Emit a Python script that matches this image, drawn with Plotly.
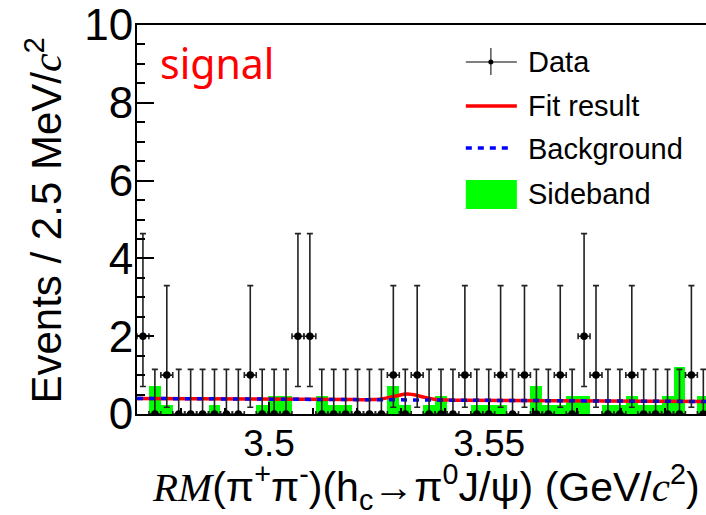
import plotly.graph_objects as go

# ---------------- data ----------------
bin_centers = [3.47135, 3.47406, 3.47677, 3.47948, 3.48219, 3.48490, 3.48760, 3.49031,
               3.49302, 3.49573, 3.49844, 3.50115, 3.50385, 3.50656, 3.50927, 3.51198,
               3.51469, 3.51740, 3.52010, 3.52281, 3.52552, 3.52823, 3.53094, 3.53365,
               3.53635, 3.53906, 3.54177, 3.54448, 3.54719, 3.54990, 3.55260, 3.55531,
               3.55802, 3.56073, 3.56344, 3.56615, 3.56885, 3.57156, 3.57427, 3.57698,
               3.57969, 3.58240, 3.58510, 3.58781, 3.59052, 3.59323, 3.59594, 3.59865]
bin_width = 0.0027083

data_counts = [2, 0, 1, 0, 0, 0, 0, 0, 0, 1, 0, 0, 0, 2, 2, 0, 0, 0, 0, 0, 0, 1, 0, 1,
               0, 0, 0, 1, 0, 0, 1, 0, 1, 0, 0, 1, 0, 2, 1, 0, 0, 1, 0, 0, 0, 0, 1, 0]

sideband = [0, 0.72, 0.22, 0, 0, 0, 0.22, 0, 0, 0, 0.22, 0.46,
            0.46, 0, 0, 0.46, 0.22, 0.22, 0, 0, 0, 0.72, 0.22, 0,
            0.22, 0.46, 0, 0, 0.22, 0.22, 0.22, 0, 0, 0.72, 0.22, 0.22,
            0.46, 0.46, 0, 0.22, 0.22, 0.46, 0.22, 0.22, 0.46, 1.22, 0, 0.46]

# Poisson (Garwood) error bars for the observed counts: (down, up)
poisson_err = {0: (0.0, 1.148), 1: (0.827, 2.300), 2: (1.292, 2.638)}

fit_x = [3.470, 3.5195, 3.5225, 3.5255, 3.5285, 3.5315, 3.5345, 3.5375, 3.5405, 3.5435, 3.600]
fit_y = [0.400, 0.370, 0.369, 0.386, 0.455, 0.512, 0.452, 0.379, 0.358, 0.355, 0.320]

bkg_x = [3.470, 3.600]
bkg_y = [0.400, 0.320]

x_ticks = [3.50, 3.55]
x_ticklabels = ["3.5", "3.55"]
y_ticks = [0, 2, 4, 6, 8, 10]

err_up = [poisson_err[c][1] for c in data_counts]
err_dn = [poisson_err[c][0] for c in data_counts]

# ---------------- layout geometry (pixels) ----------------
W, H = 706, 515
PL, PR, PT, PB = 137.4, 706.0, 25.0, 414.0
X0 = 3.47
X1 = X0 + (PR - PL) / 4399.0


def xp(px):
    return (px - PL) / (PR - PL)


def yp(py):
    return (PB - py) / (PB - PT)


SANS = "Liberation Sans, Arial, sans-serif"

fig = go.Figure()

fig.add_trace(go.Bar(x=bin_centers, y=sideband, width=bin_width,
                     marker=dict(color="#00ff00", line=dict(width=0)),
                     showlegend=False, hoverinfo="skip"))

fig.add_trace(go.Scatter(x=fit_x, y=fit_y, mode="lines",
                         line=dict(color="#ff0000", width=3.5, shape="spline"),
                         showlegend=False))

fig.add_trace(go.Scatter(x=bkg_x, y=bkg_y, mode="lines",
                         line=dict(color="#0000ff", width=3.5, dash="6px,6px"),
                         showlegend=False))

fig.add_trace(go.Scatter(
    x=bin_centers, y=data_counts, mode="markers",
    marker=dict(color="black", size=7.5),
    error_y=dict(type="data", symmetric=False, array=err_up, arrayminus=err_dn,
                 color="#222222", thickness=1.6, width=3),
    error_x=dict(type="constant", value=bin_width / 2, color="#222222",
                 thickness=1.6, width=3),
    showlegend=False, cliponaxis=True))

shapes = []
annotations = []

# ---- manual legend ----
lx0, lx1 = 466, 517
# Data
shapes.append(dict(type="line", xref="paper", yref="paper",
                   x0=xp(lx0), x1=xp(lx1), y0=yp(62), y1=yp(62),
                   line=dict(color="#555555", width=1.5)))
shapes.append(dict(type="line", xref="paper", yref="paper",
                   x0=xp(491), x1=xp(491), y0=yp(48), y1=yp(75),
                   line=dict(color="#555555", width=1.5)))
shapes.append(dict(type="circle", xref="paper", yref="paper",
                   x0=xp(488.5), x1=xp(493.5), y0=yp(59.5), y1=yp(64.5),
                   fillcolor="black", line=dict(color="black", width=0)))
# Fit result
shapes.append(dict(type="line", xref="paper", yref="paper",
                   x0=xp(lx0), x1=xp(lx1), y0=yp(106), y1=yp(106),
                   line=dict(color="#ff0000", width=3.5)))
# Background
shapes.append(dict(type="line", xref="paper", yref="paper",
                   x0=xp(lx0), x1=xp(512), y0=yp(148), y1=yp(148),
                   line=dict(color="#0000ff", width=3.5, dash="6px,6px")))
# Sideband
shapes.append(dict(type="rect", xref="paper", yref="paper",
                   x0=xp(lx0), x1=xp(lx1), y0=yp(209), y1=yp(180),
                   fillcolor="#00ff00", line=dict(width=0)))

for txt, yy in [("Data", 62), ("Fit result", 106), ("Background", 149), ("Sideband", 194)]:
    annotations.append(dict(text=txt, xref="paper", yref="paper", x=xp(526), y=yp(yy),
                            xanchor="left", yanchor="middle", showarrow=False,
                            font=dict(family=SANS, size=29, color="black")))

# "signal" label
annotations.append(dict(text="signal", xref="paper", yref="paper", x=xp(158), y=yp(63),
                        xanchor="left", yanchor="middle", showarrow=False,
                        font=dict(family="Noto Sans, Open Sans, sans-serif", size=41,
                                  color="#ff0000")))

# y-axis title
annotations.append(dict(
    text="Events / 2.5 MeV/<span style='font-family:Liberation Serif;font-style:italic'>c</span><sup>2</sup>",
    xref="paper", yref="paper", x=(44 - PL) / (PR - PL), y=yp(220),
    xanchor="center", yanchor="middle", textangle=-90, showarrow=False,
    font=dict(family=SANS, size=42, color="black")))

# x-axis title
annotations.append(dict(
    text="<span style='font-family:Liberation Serif;font-style:italic'>RM</span>"
         "(π<sup>+</sup>π<sup>-</sup>)(h<sub>c</sub>→π<sup>0</sup>J/ψ) "
         "(GeV/<span style='font-family:Liberation Serif;font-style:italic'>c</span><sup>2</sup>)",
    xref="paper", yref="paper", x=xp(426), y=yp(487),
    xanchor="center", yanchor="middle", showarrow=False,
    font=dict(family=SANS, size=41, color="black")))

fig.update_layout(
    width=W, height=H,
    margin=dict(l=PL, r=W - PR, t=PT, b=H - PB, pad=0, autoexpand=False),
    paper_bgcolor="white", plot_bgcolor="white",
    bargap=0, barmode="overlay",
    showlegend=False,
    shapes=shapes, annotations=annotations,
    xaxis=dict(range=[X0, X1], tickvals=x_ticks, ticktext=x_ticklabels,
               ticks="inside", ticklen=12, tickwidth=1.5, tickcolor="black",
               minor=dict(dtick=0.01, tick0=3.47, ticks="inside", ticklen=6,
                          tickwidth=1.5, tickcolor="black", showgrid=False),
               showline=True, linecolor="black", linewidth=2, mirror=True,
               showgrid=False, zeroline=False, automargin=False,
               ticklabelstandoff=-4,
               tickfont=dict(family=SANS, size=37, color="black")),
    yaxis=dict(range=[0, 10], tickvals=y_ticks,
               ticks="inside", ticklen=17, tickwidth=1.5, tickcolor="black",
               minor=dict(dtick=0.5, tick0=0, ticks="inside", ticklen=8,
                          tickwidth=1.5, tickcolor="black", showgrid=False),
               showline=True, linecolor="black", linewidth=2,
               showgrid=False, zeroline=False, automargin=False,
               ticklabelstandoff=-7,
               tickfont=dict(family=SANS, size=44, color="black")),
)

fig.write_html("out.html", config={"displayModeBar": False},
               post_script="document.body.style.margin='0px';")
